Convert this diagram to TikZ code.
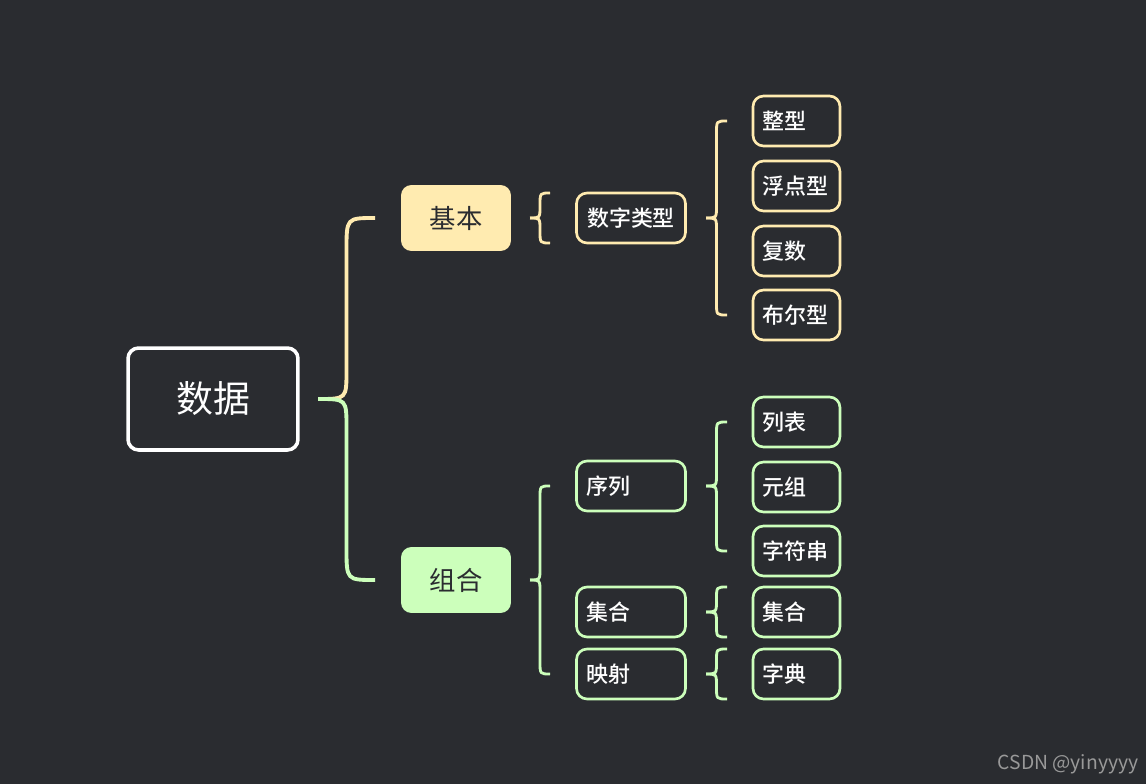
\documentclass[tikz,border=0pt]{standalone}
\usepackage{fontspec}
\setmainfont{Noto Sans CJK SC}[BoldFont={Noto Sans CJK SC Medium}]
\begin{document}
\definecolor{bg}{HTML}{2A2C30}
\definecolor{yel}{HTML}{FFEBB0}
\definecolor{grn}{HTML}{CCFFBB}
\begin{tikzpicture}[x=0.02cm,y=-0.02cm,
  root/.style={draw=white,line width=2pt,rounded corners=6pt,minimum width=3.4cm,minimum height=2.04cm,text=white,font=\fontsize{21}{24}\selectfont},
  main/.style={rounded corners=6pt,minimum width=2.2cm,minimum height=1.32cm,text=bg,font=\fontsize{15}{18}\selectfont},
  leaf/.style={draw=#1,line width=1.5pt,rounded corners=6pt,minimum height=1cm,text=white,font=\fontsize{12.5}{14}\selectfont\bfseries,inner xsep=4pt},
  brc/.style={draw=#1,line width=1.6pt}]
\fill[bg] (0,0) rectangle (1146,784);
\newcommand\mybrace[6]{% x0 x1 ymid ytop ybot color
  \pgfmathsetmacro\xm{(#1+#2)/2}\pgfmathsetmacro\rr{min(12,(#3-#4)/2)}
  \draw[brc=#6] (#2,#4) .. controls (\xm,#4) .. (\xm,#4+\rr) -- (\xm,#3-\rr) .. controls (\xm,#3) .. (#1,#3);
  \pgfmathsetmacro\rr{min(12,(#5-#3)/2)}
  \draw[brc=#6] (#2,#5) .. controls (\xm,#5) .. (\xm,#5-\rr) -- (\xm,#3+\rr) .. controls (\xm,#3) .. (#1,#3);}
\node[root] (data) at (213,399) {数据};
\node[main,fill=yel] (jb) at (456,218) {基本};
\node[main,fill=grn] (zh) at (456,580) {组合};
\node[leaf=yel,minimum width=2.18cm] (szlx) at (631,218) {数字类型};
\foreach \n/\t/\y in {a/整型/121,b/浮点型/186,c/复数/251,d/布尔型/315}
  \node[leaf=yel,minimum width=1.74cm] (\n) at (796.5,\y) {\makebox[1.36cm][l]{\t}};
\node[leaf=grn,minimum width=2.18cm] (xl) at (631,486) {\makebox[1.78cm][l]{序列}};
\node[leaf=grn,minimum width=2.18cm] (jh) at (631,612) {\makebox[1.78cm][l]{集合}};
\node[leaf=grn,minimum width=2.18cm] (ys) at (631,674) {\makebox[1.78cm][l]{映射}};
\foreach \n/\t/\y in {e/列表/422,f/元组/487,g/字符串/551,h/集合/612,i/字典/674}
  \node[leaf=grn,minimum width=1.74cm] (\n) at (796.5,\y) {\makebox[1.36cm][l]{\t}};
\pgfmathsetmacro\xm{346.5}
\draw[brc=yel,line width=2.2pt] (375,218) .. controls (\xm,218) .. (\xm,250) -- (\xm,370) .. controls (\xm,399) .. (318,399);
\draw[brc=grn,line width=2.2pt] (375,580) .. controls (\xm,580) .. (\xm,548) -- (\xm,428) .. controls (\xm,399) .. (318,399);
\mybrace{530}{550}{218}{193}{243}{yel}
\mybrace{706}{727}{218}{121}{315}{yel}
\mybrace{530}{550}{580}{486}{674}{grn}
\mybrace{706}{727}{486}{422}{551}{grn}
\mybrace{706}{727}{612}{587}{637}{grn}
\mybrace{706}{727}{674}{649}{699}{grn}
\node[text=gray!80,font=\fontsize{11}{13}\selectfont] (wm) at (1068,764) {CSDN @yinyyyy};
\end{tikzpicture}
\end{document}
